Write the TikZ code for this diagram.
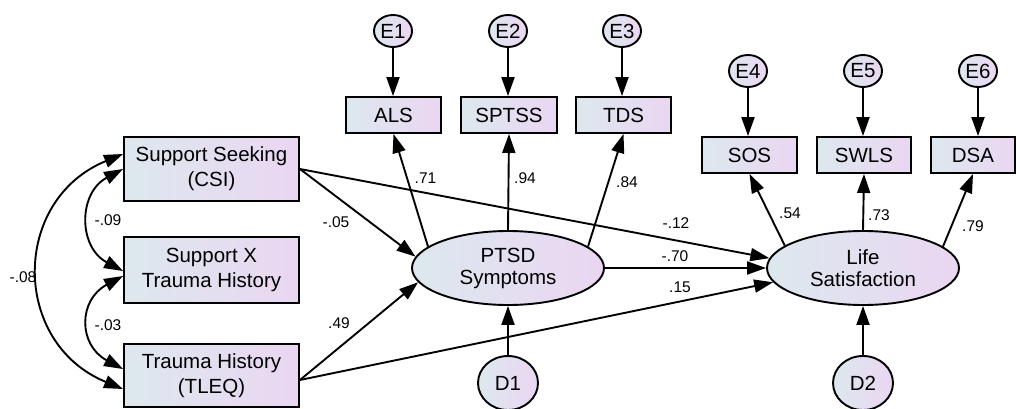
\documentclass[tikz,border=0pt]{standalone}
\usepackage{fontspec}
\setmainfont{Liberation Sans}
\usetikzlibrary{arrows.meta,shapes.geometric}
\definecolor{fillL}{RGB}{221,232,238}
\definecolor{fillR}{RGB}{234,214,242}
\begin{document}
\begin{tikzpicture}[x=1pt,y=-1pt,
  shade/.style={draw, line width=1.9pt, left color=fillL, right color=fillR, inner sep=0pt, align=center},
  obs/.style={shade, rectangle, font=\fontsize{20.5}{25}\selectfont},
  ind/.style={obs, minimum height=36pt},
  lat/.style={shade, ellipse, minimum width=192pt, minimum height=74pt, font=\fontsize{20.5}{22}\selectfont},
  err/.style={shade, ellipse, minimum width=38pt, minimum height=32pt, font=\fontsize{20.5}{22}\selectfont},
  dis/.style={shade, ellipse, minimum width=60pt, minimum height=54pt, font=\fontsize{20.5}{22}\selectfont},
  arr/.style={line width=1.9pt, -{Triangle[length=19pt,width=13pt]}},
  biarr/.style={line width=1.9pt, {Triangle[length=19pt,width=13pt]}-{Triangle[length=19pt,width=13pt]}},
  lab/.style={font=\fontsize{15.5}{18}\selectfont, inner sep=0pt}
]
\useasboundingbox (0,0) rectangle (1016,409);

% exogenous observed
\node[obs, minimum width=175pt, minimum height=64pt] (ss) at (211.5,169) {Support Seeking\\(CSI)};
\node[obs, minimum width=175pt, minimum height=66pt] (sxt) at (211.5,270) {Support X\\Trauma History};
\node[obs, minimum width=175pt, minimum height=63pt] (th) at (211.5,375.5) {Trauma History\\(TLEQ)};

% latent
\node[lat] (ptsd) at (508,268) {PTSD\\Symptoms};
\node[lat] (ls) at (863,268) {Life\\Satisfaction};

% indicators
\node[ind, minimum width=95pt] (als) at (393.5,115) {ALS};
\node[ind, minimum width=96pt] (sptss) at (509,115) {SPTSS};
\node[ind, minimum width=95pt] (tds) at (623.5,115) {TDS};
\node[ind, minimum width=95pt] (sos) at (749.5,155) {SOS};
\node[ind, minimum width=94pt] (swls) at (864,155) {SWLS};
\node[ind, minimum width=84pt] (dsa) at (973,155) {DSA};

% errors
\node[err] (e1) at (393,31) {E1};
\node[err] (e2) at (508,31) {E2};
\node[err] (e3) at (622,31) {E3};
\node[err] (e4) at (748,71) {E4};
\node[err] (e5) at (863,71) {E5};
\node[err] (e6) at (978,71) {E6};
\node[dis] (d1) at (508,383) {D1};
\node[dis] (d2) at (863,383) {D2};

% error arrows
\draw[arr] (e1) -- (e1 |- als.north);
\draw[arr] (e2) -- (e2 |- sptss.north);
\draw[arr] (e3) -- (e3 |- tds.north);
\draw[arr] (e4) -- (e4 |- sos.north);
\draw[arr] (e5) -- (e5 |- swls.north);
\draw[arr] (e6) -- (e6 |- dsa.north);
\draw[arr] (d1) -- (ptsd.south);
\draw[arr] (d2) -- (ls.south);

% loadings
\draw[arr] (ptsd.165) -- (als.south);
\draw[arr] (ptsd.north) -- (sptss.south);
\draw[arr] (ptsd.15) -- (tds.south);
\draw[arr] (ls.164) -- (sos.south);
\draw[arr] (ls.north) -- (swls.south);
\draw[arr] (ls.15) -- (dsa.south);

% structural paths
\draw[arr] (ss.east) -- (ptsd.173);
\draw[arr] ([yshift=-4.5pt]th.east) -- (ptsd.189);
\draw[arr] (ss.east) -- (ls.174);
\draw[arr] (ptsd.east) -- (ls.west);
\draw[arr] ([yshift=-4.5pt]th.east) -- (ls.189);

% covariances
\draw[biarr] (ss.west) .. controls +(-45,24) and +(-45,-24) .. ([yshift=-1pt]sxt.west);
\draw[biarr] ([yshift=-6pt]sxt.west) .. controls +(-45,24) and +(-45,-24) .. ([yshift=6.5pt]th.west);
\draw[biarr] ([yshift=15pt]ss.west) .. controls +(-112,46) and +(-112,-46) .. ([yshift=-13.5pt]th.west);

% labels
\node[lab] (l71) at (425.5,178) {.71};
\node[lab] (l94) at (525,178) {.94};
\node[lab] (l84) at (627,182) {.84};
\node[lab] (l54) at (790,213) {.54};
\node[lab] (l73) at (879,215) {.73};
\node[lab] (l79) at (973,226) {.79};
\node[lab] (l12) at (676,223) {-.12};
\node[lab] (l70) at (675,256) {-.70};
\node[lab] (l15) at (680,287) {.15};
\node[lab] (l05) at (336,222) {-.05};
\node[lab] (l49) at (339,323) {.49};
\node[lab] (l09) at (108,220) {-.09};
\node[lab] (l03) at (108,325) {-.03};
\node[lab] (l08) at (23,277) {-.08};
\end{tikzpicture}
\end{document}
